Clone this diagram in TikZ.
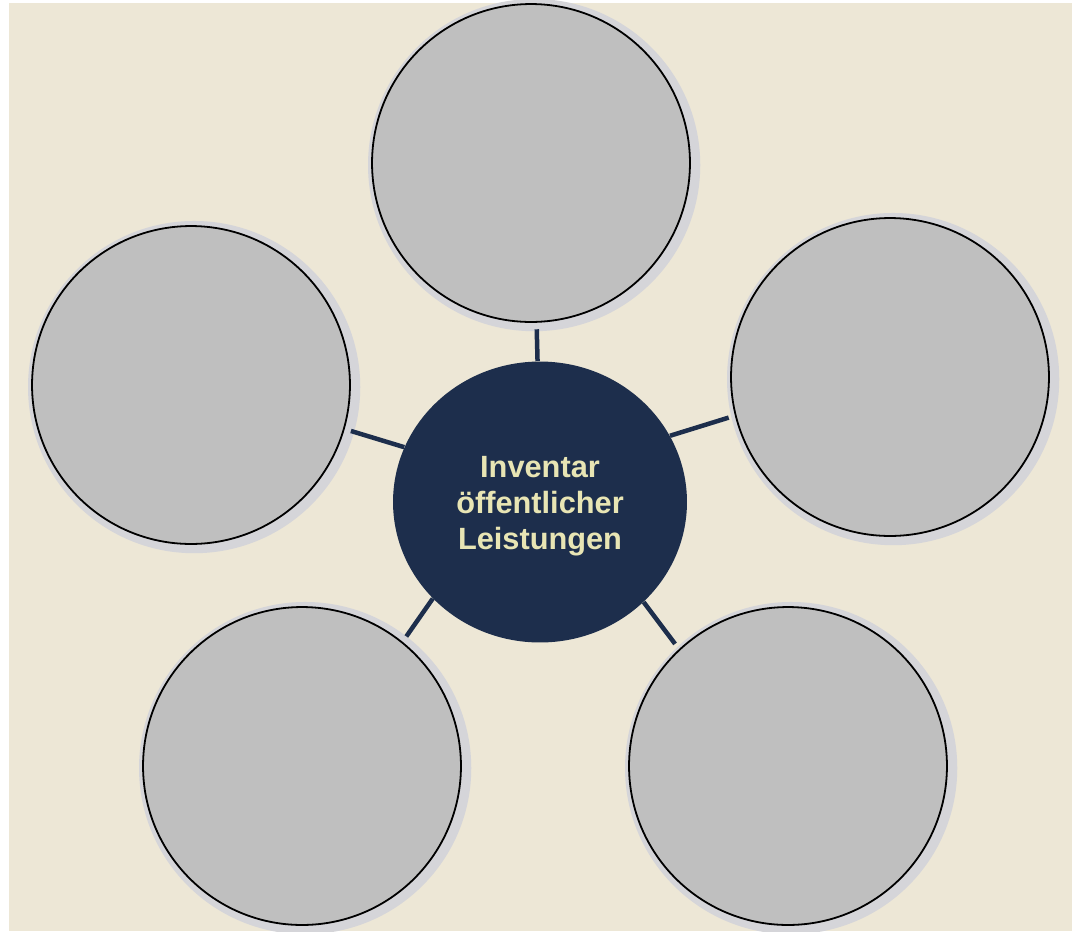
\documentclass[tikz,border=0pt]{standalone}
\usepackage{fontspec}
\usepackage{tikz}
\usetikzlibrary{shapes.geometric,shadows}
\newfontfamily\hubfont{Liberation Sans}

\definecolor{paper}{HTML}{EDE7D6}
\definecolor{bubblegray}{HTML}{BFBFBF}
\definecolor{shadegray}{HTML}{D5D5D9}
\definecolor{hubnavy}{HTML}{1D2E4C}
\definecolor{hubtext}{HTML}{E8E5B4}

\begin{document}
\begin{tikzpicture}[x=0.02cm, y=-0.02cm,
    bubble/.style={circle, draw=black, line width=0.036cm, fill=bubblegray,
      minimum size=6.36cm, inner sep=0pt,
      general shadow={fill=shadegray, shadow xshift=0.06cm, shadow yshift=-0.04cm, shadow scale=1.045}},
    hub/.style={ellipse, fill=hubnavy, minimum width=5.88cm, minimum height=5.62cm, inner sep=0pt,
      text=hubtext, align=center, font=\hubfont\bfseries\fontsize{17.5}{20.5}\selectfont},
    link/.style={draw=hubnavy, line width=0.09cm, shorten >=0.13cm}]
  \useasboundingbox (0,0) rectangle (1072,931);
  \fill[paper] (9,3) rectangle (1072,931);

  % outer circles
  \node[bubble] (top) at (531,163) {};
  \node[bubble] (left) at (191,385) {};
  \node[bubble] (right) at (890,377) {};
  \node[bubble] (botleft) at (302,766) {};
  \node[bubble] (botright) at (788,766) {};

  \node[hub] (inv) at (540,502) {};
  \node[hub, fill=none, minimum size=0pt] (invtext) at (540,506) {Inventar\\öffentlicher\\Leistungen};

  % spokes
  \draw[link] (inv.91) -- (top.272);
  \draw[link] (inv.158) -- (left.344);
  \draw[link] (inv.27) -- (right.194);
  \draw[link] (inv.222) -- (botleft.51);
  \draw[link] (inv.316) -- (botright.133);
\end{tikzpicture}
\end{document}
